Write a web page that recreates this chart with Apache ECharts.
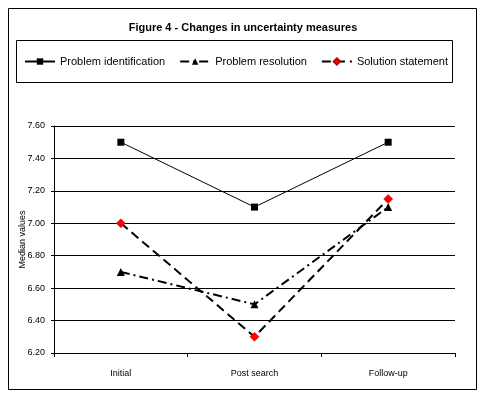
<!DOCTYPE html>
<html>
<head>
<meta charset="utf-8">
<script src="https://cdn.jsdelivr.net/npm/echarts@6/dist/echarts.min.js"></script>
<style>html,body{margin:0;padding:0;background:#fff}#c{width:486px;height:398px}</style>
</head>
<body>
<div id="c"></div>
<script>
var categories = ['Initial', 'Post search', 'Follow-up'];
var problemIdentification = [7.5, 7.1, 7.5];
var problemResolution = [6.7, 6.5, 7.1];
var solutionStatement = [7.0, 6.3, 7.15];
var yTicks = [6.2, 6.4, 6.6, 6.8, 7.0, 7.2, 7.4, 7.6];

var font = '"Liberation Sans", Arial, sans-serif';
var chart = echarts.init(document.getElementById('c'), null, {renderer: 'canvas'});
chart.setOption({
  animation: false,
  backgroundColor: '#fff',
  title: {
    text: 'Figure 4 - Changes in uncertainty measures',
    left: 'center', top: 17,
    textStyle: {fontFamily: font, fontSize: 11, fontWeight: 'bold', color: '#000'}
  },
  graphic: [
    {type: 'rect', shape: {x: 8.5, y: 8.5, width: 468, height: 381}, style: {fill: 'none', stroke: '#000', lineWidth: 1}},
    {type: 'rect', shape: {x: 16.5, y: 40.5, width: 436, height: 42}, style: {fill: 'none', stroke: '#000', lineWidth: 1}}
  ],
  legend: {
    left: 19, top: 51,
    itemWidth: 30, itemHeight: 8, itemGap: 14,
    textStyle: {fontFamily: font, fontSize: 11, color: '#000'},
    data: ['Problem identification', 'Problem resolution', 'Solution statement']
  },
  grid: {left: 54, right: 31, top: 126, bottom: 45, containLabel: false},
  xAxis: {
    type: 'category', data: categories, boundaryGap: true,
    axisLine: {lineStyle: {color: '#000', width: 1}},
    axisTick: {show: true, length: 4, lineStyle: {color: '#000'}},
    axisLabel: {fontFamily: font, fontSize: 9, color: '#000', margin: 16}
  },
  yAxis: {
    type: 'value', min: 6.2, max: 7.6, interval: 0.2,
    name: 'Median values', nameLocation: 'middle', nameGap: 27, nameMoveOverlap: false,
    nameTextStyle: {fontFamily: font, fontSize: 9, color: '#000'},
    axisLine: {show: true, lineStyle: {color: '#000', width: 1}},
    axisTick: {show: true, length: 3, lineStyle: {color: '#000'}},
    splitLine: {show: true, lineStyle: {color: '#000', width: 1}},
    axisLabel: {fontFamily: font, fontSize: 9, color: '#000', margin: 9,
      formatter: function (v) { return v.toFixed(2); }}
  },
  series: [
    {
      name: 'Problem identification', type: 'line', data: problemIdentification,
      symbol: 'rect', symbolSize: 7,
      lineStyle: {color: '#000', width: 1},
      itemStyle: {color: '#000', borderWidth: 0}
    },
    {
      name: 'Problem resolution', type: 'line', data: problemResolution,
      symbol: 'triangle', symbolSize: 8,
      lineStyle: {color: '#000', width: 2, type: [9, 4, 2, 4]},
      itemStyle: {color: '#000', borderWidth: 0}
    },
    {
      name: 'Solution statement', type: 'line', data: solutionStatement,
      symbol: 'diamond', symbolSize: 9,
      lineStyle: {color: '#000', width: 2, type: [9, 5]},
      itemStyle: {color: '#ff0000', borderColor: '#c00000', borderWidth: 0.5}
    }
  ]
});
</script>
</body>
</html>
